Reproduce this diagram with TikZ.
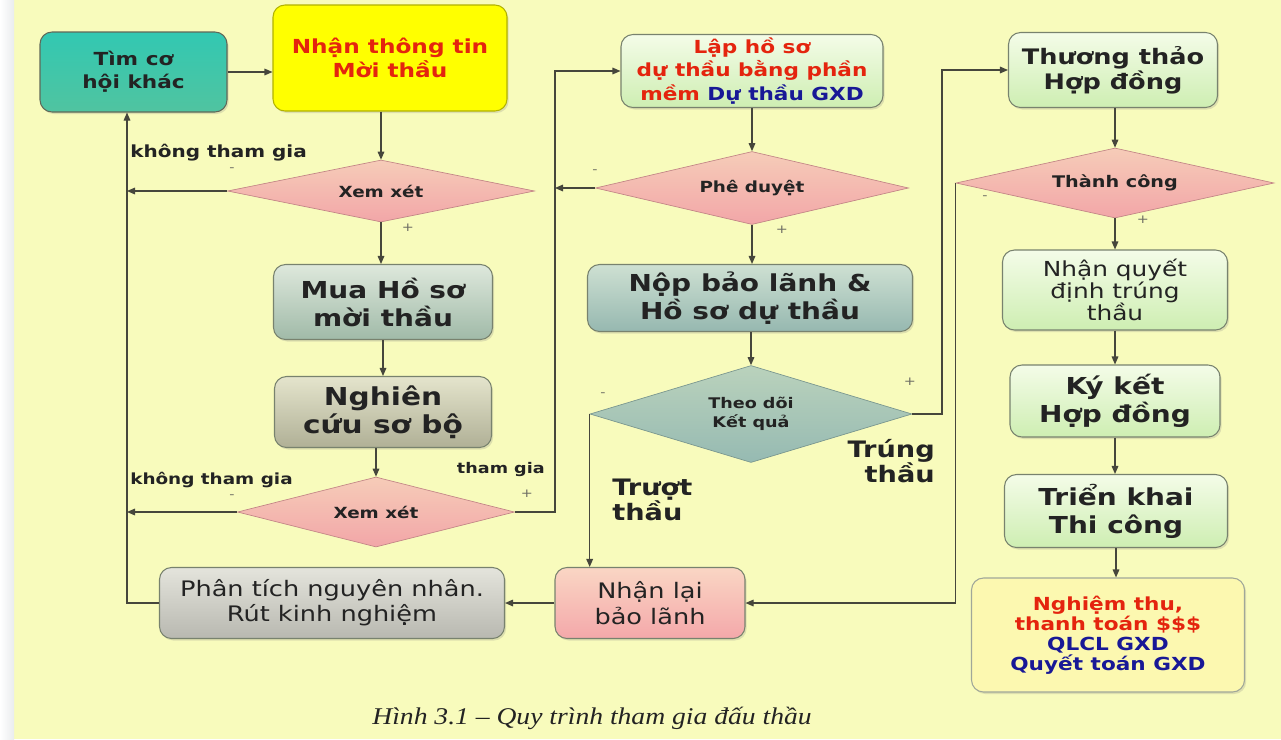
\documentclass[tikz,border=0pt]{standalone}
\usepackage{fontspec}
\setmainfont{DejaVu Sans}[FakeStretch=1.2]
\newfontfamily\capfont{Liberation Serif}[FakeStretch=1.15]
\usetikzlibrary{shapes.geometric,arrows.meta,shadows}
\def\px{0.75pt}
\newcommand\myfs[2]{\fontsize{#1}{#2}\selectfont}
\definecolor{bgc}{RGB}{248,251,188}
\definecolor{stripc}{RGB}{234,236,238}
\definecolor{linec}{RGB}{70,70,60}
\definecolor{txt}{RGB}{35,35,35}
\definecolor{redt}{RGB}{228,36,14}
\definecolor{bluet}{RGB}{24,24,150}
\definecolor{tealA}{RGB}{50,200,178}
\definecolor{tealB}{RGB}{80,196,160}
\definecolor{yel}{RGB}{255,255,0}
\definecolor{mossA}{RGB}{222,232,220}
\definecolor{mossB}{RGB}{160,186,168}
\definecolor{khaA}{RGB}{228,228,204}
\definecolor{khaB}{RGB}{176,176,150}
\definecolor{lgA}{RGB}{244,252,232}
\definecolor{lgB}{RGB}{206,238,178}
\definecolor{nopA}{RGB}{206,224,210}
\definecolor{nopB}{RGB}{150,184,176}
\definecolor{tdA}{RGB}{186,210,188}
\definecolor{tdB}{RGB}{150,186,178}
\definecolor{pkA}{RGB}{246,204,184}
\definecolor{pkB}{RGB}{242,166,168}
\definecolor{nlA}{RGB}{250,214,196}
\definecolor{nlB}{RGB}{244,168,170}
\definecolor{grA}{RGB}{228,228,220}
\definecolor{grB}{RGB}{184,184,176}
\definecolor{ntc}{RGB}{252,248,176}
\definecolor{bord}{RGB}{120,130,110}
\definecolor{signc}{RGB}{110,110,100}
\tikzset{
  box/.style={rectangle, rounded corners=9pt, draw=bord, line width=0.8pt,
    align=center, text=txt, inner sep=0pt,
    drop shadow={opacity=0.22, shadow xshift=1.2pt, shadow yshift=-1.5pt}},
  dia/.style={diamond, draw=pkB!80!black, line width=0.5pt, inner sep=0pt,
    align=center, text=txt, top color=pkA, bottom color=pkB,
    font=\bfseries\myfs{11.5}{14}},
  arr/.style={draw=linec, line width=0.8pt, -{Triangle[length=6pt,width=5pt]}},
  lbl/.style={text=txt, font=\bfseries\myfs{12.5}{14}, inner sep=0pt},
  sign/.style={text=signc, font=\myfs{9}{10}, inner sep=0pt},
  big/.style={font=\bfseries\myfs{17.5}{21}},
}
\begin{document}
\begin{tikzpicture}[x=0.75pt,y=-0.75pt]
\useasboundingbox (0,0) rectangle (1281,739);
\fill[bgc] (0,0) rectangle (1281,739);
\fill[left color=white, right color=stripc] (0,0) rectangle (14,739);

% left column
\node[box, top color=tealA, bottom color=tealB, draw=bord!80!black,
  minimum width=187*\px, minimum height=80*\px, font=\bfseries\myfs{13.5}{17}]
  (tim) at (133.5,72) {Tìm cơ\\hội khác};
\node[box, fill=yel, draw=yel!70!black, text=redt,
  minimum width=234*\px, minimum height=106*\px, font=\bfseries\myfs{14.5}{17.5}]
  (nhan) at (390,58) {Nhận thông tin\\Mời thầu};
\node[dia, shape aspect=5, minimum width=307*\px, minimum height=62*\px] (d1) at (381,191) {Xem xét};
\node[box, big, top color=mossA, bottom color=mossB,
  minimum width=219*\px, minimum height=75*\px] (mua) at (383,302) {Mua Hồ sơ\\mời thầu};
\node[box, top color=khaA, bottom color=khaB, font=\bfseries\myfs{18.5}{21},
  minimum width=217*\px, minimum height=71*\px] (ngh) at (383,412) {Nghiên\\cứu sơ bộ};
\node[dia, shape aspect=4, minimum width=277*\px, minimum height=70*\px] (d2) at (376,512) {Xem xét};
\node[box, top color=grA, bottom color=grB, font=\myfs{16}{19},
  minimum width=345*\px, minimum height=71*\px] (pt) at (332,603)
  {Phân tích nguyên nhân.\\Rút kinh nghiệm};

% middle column
\node[box, top color=lgA, bottom color=lgB, text=redt, font=\bfseries\myfs{13.5}{17.5},
  minimum width=262*\px, minimum height=73*\px] (lap) at (752,71)
  {Lập hồ sơ\\dự thầu bằng phần\\mềm \textcolor{bluet}{Dự thầu GXD}};
\node[dia, shape aspect=4.3, minimum width=313*\px, minimum height=73*\px] (d3) at (752,188) {Phê duyệt};
\node[box, big, top color=nopA, bottom color=nopB,
  minimum width=325*\px, minimum height=67*\px] (nop) at (750,298)
  {Nộp bảo lãnh \&\\Hồ sơ dự thầu};
\node[dia, shape aspect=3.3, top color=tdA, bottom color=tdB, draw=tdB!80!black, font=\bfseries\myfs{11}{14},
  minimum width=322*\px, minimum height=97*\px] (d4) at (751,414) {Theo dõi\\Kết quả};
\node[box, top color=nlA, bottom color=nlB, font=\myfs{16}{19},
  minimum width=190*\px, minimum height=71*\px] (nl) at (650,603) {Nhận lại\\bảo lãnh};

% right column
\node[box, top color=lgA, bottom color=lgB, font=\bfseries\myfs{16}{18.5},
  minimum width=209*\px, minimum height=75*\px] (tt) at (1113,70) {Thương thảo\\Hợp đồng};
\node[dia, shape aspect=4.5, minimum width=318*\px, minimum height=70*\px, font=\bfseries\myfs{12}{14}]
  (d5) at (1115,183) {Thành công};
\node[box, top color=lgA, bottom color=lgB, font=\myfs{15.5}{16.5},
  minimum width=225*\px, minimum height=80*\px] (nqd) at (1115,290)
  {Nhận quyết\\định trúng\\thầu};
\node[box, big, top color=lgA, bottom color=lgB,
  minimum width=210*\px, minimum height=72*\px] (ky) at (1115,401) {Ký kết\\Hợp đồng};
\node[box, big, top color=lgA, bottom color=lgB,
  minimum width=223*\px, minimum height=73*\px] (tk) at (1116,511) {Triển khai\\Thi công};
\node[box, fill=ntc, draw=bord!70, text=redt, font=\bfseries\myfs{13.5}{15},
  minimum width=273*\px, minimum height=114*\px] (nt) at (1108,635)
  {Nghiệm thu,\\thanh toán \$\$\$\\\textcolor{bluet}{QLCL GXD}\\\textcolor{bluet}{Quyết toán GXD}};

% helper coordinates
\coordinate (lx) at (127,0);
\coordinate (mx) at (555,0);
\coordinate (rx) at (942,0);

% connectors
\draw[arr] (tim.east) -- (tim.east -| nhan.west);
\draw[arr] (nhan.south -| d1.north) -- (d1.north);
\draw[arr] (d1.west) -- (lx |- d1.west);
\draw[arr] (d1.south) -- (d1.south |- mua.north);
\draw[arr] (mua.south) -- (mua.south |- ngh.north);
\draw[arr] (ngh.south -| d2.north) -- (d2.north);
\draw[arr] (d2.west) -- (lx |- d2.west);
\draw[arr] (pt.west) -| (lx |- tim.south);
\draw[arr] (d2.east) -- (mx |- d2.east) |- (lap.west);
\draw[arr] (lap.south) -- (d3.north);
\draw[arr] (d3.west) -- (mx |- d3.west);
\draw[arr] (d3.south) -- (d3.south |- nop.north);
\draw[arr] (nop.south -| d4.north) -- (d4.north);
\draw[arr] (d4.west) -- (d4.west |- nl.north);
\draw[arr] (d4.east) -- (rx |- d4.east) |- (tt.west);
\draw[arr] (tt.south -| d5.north) -- (d5.north);
\draw[arr] (d5.west) |- (nl.east);
\draw[arr] (nl.west) -- (pt.east);
\draw[arr] (d5.south) -- (d5.south |- nqd.north);
\draw[arr] (nqd.south) -- (nqd.south |- ky.north);
\draw[arr] (ky.south) -- (ky.south |- tk.north);
\draw[arr] (tk.south) -- (tk.south |- nt.north);

% labels
\node[lbl, anchor=west] (l1) at (130,153) {không tham gia};
\node[lbl, anchor=west, font=\bfseries\myfs{11.5}{13}] (l2) at (130,480) {không tham gia};
\node[lbl, anchor=east, font=\bfseries\myfs{11}{13}] (l3) at (545,470) {tham gia};
\node[sign] (s1) at (232,170) {-};
\node[sign] (s2) at (408,228) {+};
\node[sign] (s3) at (232,497) {-};
\node[sign] (s4) at (527,494) {+};
\node[sign] (s5) at (595,172) {-};
\node[sign] (s6) at (782,230) {+};
\node[sign] (s7) at (603,395) {-};
\node[sign] (s8) at (910,382) {+};
\node[sign] (s9) at (985,198) {-};
\node[sign] (s10) at (1143,220) {+};
\node[text=txt, font=\bfseries\myfs{17}{19}, align=left, anchor=west, inner sep=0pt]
  (tr) at (612,500) {Trượt\\thầu};
\node[text=txt, font=\bfseries\myfs{17}{19}, align=right, anchor=east, inner sep=0pt]
  (tg) at (935,461) {Trúng\\thầu};
\node[text=txt, font=\capfont\itshape\myfs{18}{20}, inner sep=0pt]
  (cap) at (592,718) {Hình 3.1 – Quy trình tham gia đấu thầu};
\end{tikzpicture}
\end{document}
